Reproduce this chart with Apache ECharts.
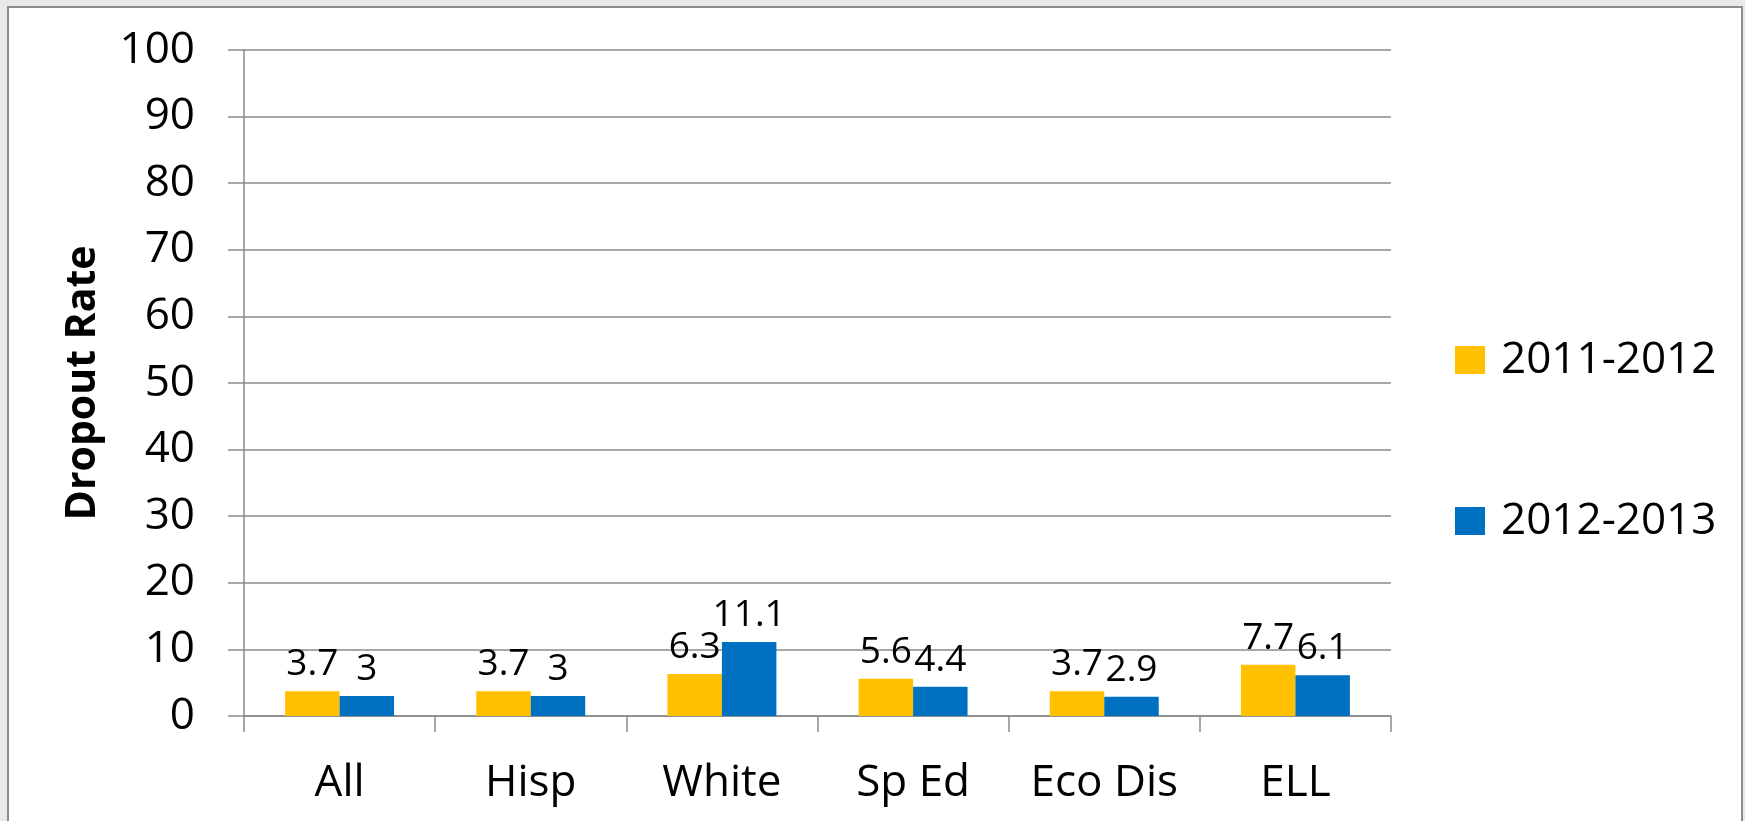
<!DOCTYPE html>
<html>
<head>
<meta charset="utf-8">
<script src="https://cdn.jsdelivr.net/npm/echarts@6/dist/echarts.min.js"></script>
<style>
  html, body { margin: 0; padding: 0; background: #e9e9e9; }
  #chart { width: 1745px; height: 821px; }
</style>
</head>
<body>
<div id="chart"></div>
<script>
const categories = ['All', 'Hisp', 'White', 'Sp Ed', 'Eco Dis', 'ELL'];
const seriesNames = ['2011-2012', '2012-2013'];
const values2011 = [3.7, 3.7, 6.3, 5.6, 3.7, 7.7];
const values2012 = [3, 3, 11.1, 4.4, 2.9, 6.1];
const yMin = 0, yMax = 100, yInterval = 10;

const FONT = '"Open Sans", "Noto Sans", sans-serif';
const chart = echarts.init(document.getElementById('chart'));

const labelStyle = {
  show: true,
  position: 'top',
  distance: 8,
  color: '#000',
  fontFamily: FONT,
  fontSize: 37
};

chart.setOption({
  backgroundColor: '#e9e9e9',
  animation: false,
  graphic: [{
    type: 'rect',
    shape: { x: 8, y: 7, width: 1734, height: 830 },
    style: { fill: '#ffffff', stroke: '#8c8c8c', lineWidth: 2 },
    z: -10
  }],
  grid: { left: 244, right: 354, top: 50, bottom: 105, containLabel: false },
  legend: {
    orient: 'vertical',
    left: 1450,
    top: 333,
    itemWidth: 30,
    itemHeight: 28,
    itemGap: 117,
    icon: 'rect',
    textStyle: { fontFamily: FONT, fontSize: 44, color: '#000', padding: [0, 0, 0, 11] },
    data: seriesNames
  },
  xAxis: {
    type: 'category',
    data: categories,
    axisLine: { show: true, lineStyle: { color: '#8a8a8a', width: 1.5 } },
    axisTick: { show: true, interval: 0, length: 16, lineStyle: { color: '#8a8a8a', width: 1.5 } },
    axisLabel: { interval: 0, margin: 45, color: '#000', fontFamily: FONT, fontSize: 44 }
  },
  yAxis: {
    type: 'value',
    min: yMin,
    max: yMax,
    interval: yInterval,
    name: 'Dropout Rate',
    nameLocation: 'middle',
    nameGap: 140,
    nameTextStyle: { fontFamily: FONT, fontSize: 41, fontWeight: 'bold', color: '#000' },
    axisLine: { show: true, lineStyle: { color: '#8a8a8a', width: 1.5 } },
    axisTick: { show: true, length: 16, lineStyle: { color: '#8a8a8a', width: 1.5 } },
    axisLabel: { margin: 49, color: '#000', fontFamily: FONT, fontSize: 44 },
    splitLine: { show: true, lineStyle: { color: '#8a8a8a', width: 1.5 } }
  },
  series: [
    {
      name: seriesNames[0],
      type: 'bar',
      data: values2011,
      barGap: '0%',
      barCategoryGap: '43%',
      itemStyle: { color: '#FFC000' },
      label: labelStyle
    },
    {
      name: seriesNames[1],
      type: 'bar',
      data: values2012,
      barGap: '0%',
      barCategoryGap: '43%',
      itemStyle: { color: '#0070C0' },
      label: labelStyle
    }
  ]
});
</script>
</body>
</html>
